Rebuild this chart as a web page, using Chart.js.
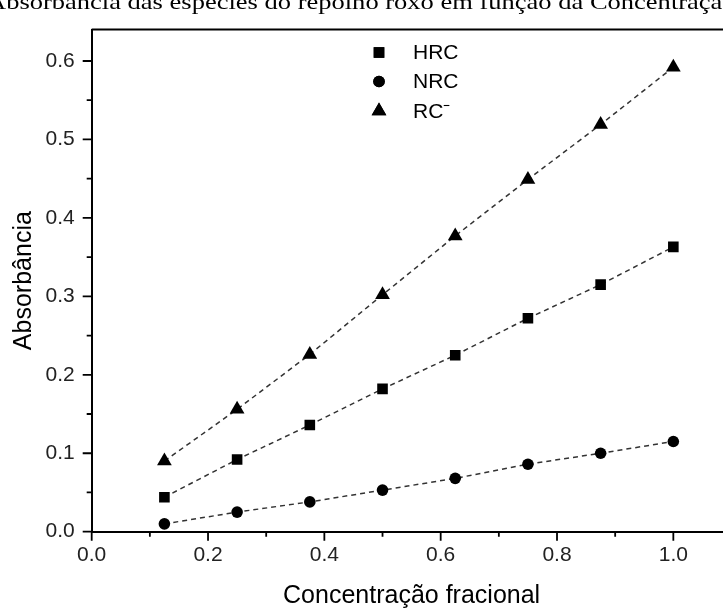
<!DOCTYPE html>
<html lang="pt">
<head>
  <meta charset="utf-8" />
  <title>Absorbância das espécies do repolho roxo</title>
  <script src="https://cdn.jsdelivr.net/npm/chart.js"></script>
  <style>
    html, body {
      margin: 0;
      padding: 0;
      overflow: hidden;
      background: #fff;
    }
    #wrap {
      position: relative;
      width: 723px;
      height: 612px;
      overflow: hidden;
    }
    /* the plot runs past the right edge of the window, like the original */
    #chart-box {
      position: absolute;
      left: 0;
      top: 0;
      width: 740px;
      height: 612px;
    }
    #titulo {
      position: absolute;
      left: -12.6px;
      top: -9.4px;
      white-space: nowrap;
      font: 22px "Liberation Serif", "Times New Roman", serif;
      line-height: 22px;
      color: #000;
      transform: scaleX(1.205);
      transform-origin: left top;
    }
  </style>
</head>
<body>
  <div id="wrap">
    <div id="chart-box"><canvas id="grafico"></canvas></div>
    <div id="titulo">Absorbância das espécies do repolho roxo em função da Concentração</div>
  </div>

  <script>
    // dados
    const concentracao = [0.125, 0.25, 0.375, 0.5, 0.625, 0.75, 0.875, 1.0];
    const absHRC = [0.044, 0.092, 0.136, 0.182, 0.225, 0.272, 0.315, 0.363];
    const absNRC = [0.010, 0.025, 0.038, 0.053, 0.068, 0.086, 0.100, 0.115];
    const absRC = [0.090, 0.156, 0.226, 0.302, 0.377, 0.449, 0.519, 0.592];

    // marcas dos eixos
    const xMajor = [0, 0.2, 0.4, 0.6, 0.8, 1.0];
    const xMinor = [0.1, 0.3, 0.5, 0.7, 0.9];
    const yMajor = [0, 0.1, 0.2, 0.3, 0.4, 0.5, 0.6];
    const yMinor = [0.05, 0.15, 0.25, 0.35, 0.45, 0.55];

    const fonte = '"Liberation Sans", Arial, sans-serif';
    const pontos = arr => concentracao.map((x, i) => ({ x: x, y: arr[i] }));

    function serie(label, valores, estilo, raio) {
      return {
        label: label,
        data: pontos(valores),
        showLine: true,
        borderColor: "#333",
        borderWidth: 1.5,
        borderDash: [5, 4],
        pointStyle: estilo,
        pointRadius: raio,
        pointHoverRadius: raio,
        pointBackgroundColor: "#000",
        pointBorderColor: "#000",
        pointBorderWidth: 0
      };
    }

    // ticks para fora + moldura superior
    const moldura = {
      id: "moldura",
      afterDraw(chart) {
        const { ctx, chartArea: a, scales } = chart;
        const xs = scales.x, ys = scales.y;
        ctx.save();
        ctx.strokeStyle = "#000";
        ctx.lineWidth = 2;
        ctx.beginPath();
        ctx.moveTo(a.left, a.top);
        ctx.lineTo(a.right, a.top);
        ctx.lineTo(a.right, a.bottom);
        ctx.stroke();

        ctx.lineWidth = 1.8;
        ctx.beginPath();
        xMajor.forEach(v => { const p = xs.getPixelForValue(v); ctx.moveTo(p, a.bottom); ctx.lineTo(p, a.bottom + 9); });
        xMinor.forEach(v => { const p = xs.getPixelForValue(v); ctx.moveTo(p, a.bottom); ctx.lineTo(p, a.bottom + 5); });
        yMajor.forEach(v => { const p = ys.getPixelForValue(v); ctx.moveTo(a.left, p); ctx.lineTo(a.left - 9, p); });
        yMinor.forEach(v => { const p = ys.getPixelForValue(v); ctx.moveTo(a.left, p); ctx.lineTo(a.left - 5, p); });
        ctx.stroke();
        ctx.restore();
      }
    };

    // legenda desenhada dentro do gráfico
    const legenda = {
      id: "legenda",
      afterDraw(chart) {
        const ctx = chart.ctx;
        const linhas = [52.5, 81.5, 111];
        ctx.save();
        ctx.fillStyle = "#000";
        ctx.font = "21px " + fonte;
        ctx.textBaseline = "middle";
        chart.data.datasets.forEach((ds, i) => {
          const y = linhas[i];
          Chart.helpers.drawPoint(ctx, { pointStyle: ds.pointStyle, radius: ds.pointRadius, rotation: 0, borderWidth: 0 }, 379, y);
          ctx.fillStyle = "#000";
          ctx.fill();
          ctx.fillText(ds.label, 413, y + 1);
        });
        ctx.restore();
      }
    };

    const ctx = document.getElementById("grafico").getContext("2d");
    new Chart(ctx, {
      type: "scatter",
      data: {
        datasets: [
          serie("HRC", absHRC, "rect", 7.5),
          serie("NRC", absNRC, "circle", 5.8),
          serie("RC⁻", absRC, "triangle", 8.5)
        ]
      },
      options: {
        responsive: true,
        maintainAspectRatio: false,
        animation: false,
        layout: { padding: { top: 19.5, right: 6, left: 0, bottom: 0 } },
        plugins: {
          legend: { display: false },
          tooltip: { enabled: false }
        },
        scales: {
          x: {
            type: "linear",
            min: 0,
            max: 1.1,
            grid: { display: false, drawTicks: false },
            border: { display: true, color: "#000", width: 2 },
            afterBuildTicks: s => { s.ticks = xMajor.map(v => ({ value: v })); },
            afterFit: s => { s.height = 80.3; },
            ticks: {
              color: "#222",
              padding: 11,
              maxRotation: 0,
              font: { family: fonte, size: 21 },
              callback: v => Number(v).toFixed(1)
            },
            title: {
              display: true,
              text: "Concentração fracional",
              color: "#000",
              padding: { top: 0, bottom: 1 },
              font: { family: fonte, size: 25 }
            }
          },
          y: {
            type: "linear",
            min: 0,
            max: 0.64,
            grid: { display: false, drawTicks: false },
            border: { display: true, color: "#000", width: 2 },
            afterBuildTicks: s => { s.ticks = yMajor.map(v => ({ value: v })); },
            afterFit: s => { s.width = 91.7; },
            ticks: {
              color: "#222",
              padding: 17,
              font: { family: fonte, size: 21 },
              callback: v => Number(v).toFixed(1)
            },
            title: {
              display: true,
              text: "Absorbância",
              color: "#000",
              padding: { top: 9, bottom: 0 },
              font: { family: fonte, size: 25 }
            }
          }
        }
      },
      plugins: [moldura, legenda]
    });
  </script>
</body>
</html>
